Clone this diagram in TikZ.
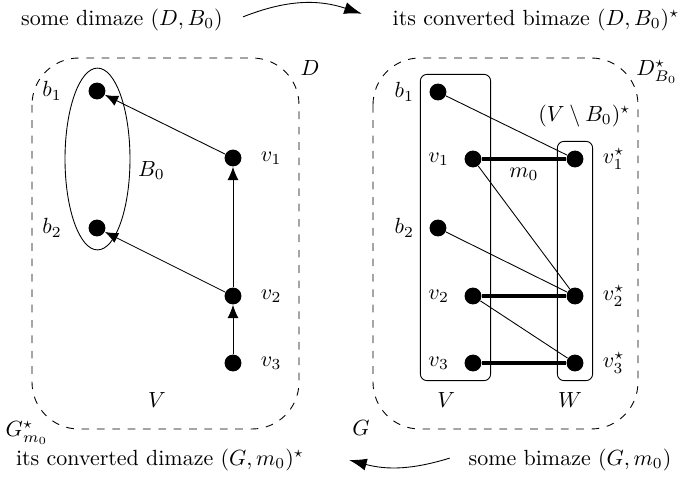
\documentclass[tikz,border=0pt]{standalone}
\usetikzlibrary{arrows.meta, positioning, fit, shapes.geometric}
\tikzset{
  vtx/.style    = {circle, fill=black, inner sep=0pt, minimum size=0.27cm},
  lbl/.style    = {inner sep=0.3333em},
  region/.style = {draw, dash pattern=on 3.5pt off 3.5pt,
                   rounded corners=0.75cm},
  part/.style   = {draw, rounded corners=3pt, inner sep=0.14cm},
  arc/.style    = {-{Latex[length=6pt, width=5pt]}},
  match/.style  = {line width=1.6pt},
  flow/.style   = {-{Latex[length=8pt, width=5.5pt]}},
}

\begin{document}
\begin{tikzpicture}[x=0.016cm, y=-0.016cm]
  \useasboundingbox (0,0) rectangle (683,480);

  % captions and the two conversions
  \node[lbl] (dimaze)  at (122,20)  {some dimaze $(D,B_0)$};
  \node[lbl] (bimazeS) at (536,20)  {its converted bimaze $(D,B_0)^\star$};
  \node[lbl] (bimaze)  at (570,460) {some bimaze $(G,m_0)$};
  \node[lbl] (dimazeS) at (160,460) {its converted dimaze $(G,m_0)^\star$};
  \draw[flow] ([xshift=0.2cm, yshift=0.05cm]dimaze.east)
    to[bend left=20] ([xshift=-0.37cm, yshift=0.1cm]bimazeS.west);
  \draw[flow] ([xshift=-0.18cm, yshift=0.03cm]bimaze.west)
    to[bend left=16] ([xshift=0.6cm]dimazeS.east);

  % the dimaze D
  \draw[region] (32,58) rectangle (299,429);
  \node[lbl] at (310,68)  {$D$};
  \node[lbl] at (157,400) {$V$};
  \node[lbl] at (27,433)  {$G^\star_{m_0}$};

  \node[vtx] (db1) at (97,91)  {};
  \node[vtx] (db2) at (97,228) {};
  \node[vtx] (dv1) at (233,158) {};
  \node[vtx] (dv2) at (233,296) {};
  \node[vtx] (dv3) at (233,363) {};

  \node[draw, ellipse, inner sep=0pt, minimum width=1.04cm,
        minimum height=2.91cm] (Bset) at (97.5,159) {};
  \node[lbl, anchor=west] at ([yshift=-0.18cm]Bset.east) {$B_0$};

  \node[lbl, left=0.3cm of db1]  {$b_1$};
  \node[lbl, left=0.3cm of db2]  {$b_2$};
  \node[lbl, right=0.18cm of dv1] {$v_1$};
  \node[lbl, right=0.18cm of dv2] {$v_2$};
  \node[lbl, right=0.18cm of dv3] {$v_3$};

  \draw[arc] (dv1) -- (db1);
  \draw[arc] (dv2) -- (db2);
  \draw[arc] (dv2) -- (dv1);
  \draw[arc] (dv3) -- (dv2);

  % the bimaze G
  \draw[region] (373,58) rectangle (638,429);
  \node[lbl] at (657,72)  {$D^\star_{B_0}$};
  \node[lbl] at (361,428) {$G$};

  \node[vtx] (gb1) at (438,92)  {};
  \node[vtx] (gv1) at (473,159) {};
  \node[vtx] (gb2) at (438,228) {};
  \node[vtx] (gv2) at (473,296) {};
  \node[vtx] (gv3) at (473,363) {};
  \node[vtx] (gw1) at (575,159) {};
  \node[vtx] (gw2) at (575,296) {};
  \node[vtx] (gw3) at (575,363) {};

  \node[part, fit=(gb1)(gv3)] (Vbox) {};
  \node[part, fit=(gw1)(gw3)] (Wbox) {};
  \node[lbl, below=0.06cm of Vbox, xshift=-0.15cm] {$V$};
  \node[lbl, below=0.06cm of Wbox, xshift=-0.08cm] {$W$};
  \node[lbl, above=0.1cm of Wbox, xshift=0.15cm] {$(V\setminus B_0)^\star$};

  \node[lbl, left=0.12cm of gb1]  {$b_1$};
  \node[lbl, left=0.12cm of gv1]  {$v_1$};
  \node[lbl, left=0.12cm of gb2]  {$b_2$};
  \node[lbl, left=0.12cm of gv2]  {$v_2$};
  \node[lbl, left=0.12cm of gv3]  {$v_3$};
  \node[lbl, right=0.18cm of gw1] {$v_1^\star$};
  \node[lbl, right=0.18cm of gw2] {$v_2^\star$};
  \node[lbl, right=0.18cm of gw3] {$v_3^\star$};

  \draw (gb1) -- (gw1);
  \draw (gv1) -- (gw2);
  \draw (gb2) -- (gw2);
  \draw (gv2) -- (gw3);
  \draw[match] (gv1) -- node[lbl, below] {$m_0$} (gw1);
  \draw[match] (gv2) -- (gw2);
  \draw[match] (gv3) -- (gw3);
\end{tikzpicture}
\end{document}
